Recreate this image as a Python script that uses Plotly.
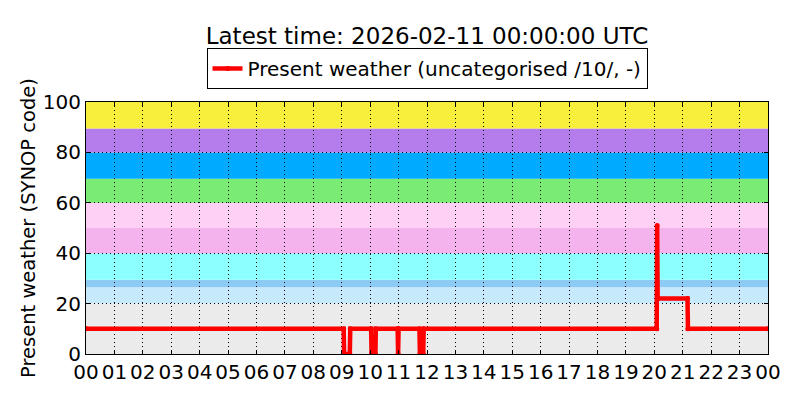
import plotly.graph_objects as go

# ---- data ----
day0 = "2026-02-10"
day1 = "2026-02-11"
times = [
    f"{day0} 00:00",
    f"{day0} 09:04", f"{day0} 09:05", f"{day0} 09:17", f"{day0} 09:18",
    f"{day0} 10:02", f"{day0} 10:03", f"{day0} 10:11", f"{day0} 10:12",
    f"{day0} 10:58", f"{day0} 10:59", f"{day0} 11:00",
    f"{day0} 11:44", f"{day0} 11:45", f"{day0} 11:52", f"{day0} 11:53",
    f"{day0} 20:05", f"{day0} 20:06", f"{day0} 20:07", f"{day0} 21:10", f"{day0} 21:11",
    f"{day1} 00:00",
]
values = [
    10,
    10, 0, 0, 10,
    10, 0, 0, 10,
    10, 0, 10,
    10, 0, 0, 10,
    10, 51, 22, 22, 10,
    10,
]

band_low = [0, 20, 26.5, 29.5, 40, 50, 60, 69.5, 80, 89.5]
band_high = [20, 26.5, 29.5, 40, 50, 60, 69.5, 80, 89.5, 100]
band_colors = ["#ebebeb", "#c6e9fc", "#8ccbf4", "#8cffff", "#f5b3ee",
               "#ffd0f6", "#7aeb73", "#00aaff", "#b57deb", "#f7ef3b"]

y_ticks = [0, 20, 40, 60, 80, 100]
title_text = "Latest time: 2026-02-11 00:00:00 UTC"
series_name = "Present weather (uncategorised /10/, -)"
y_title = "Present weather (SYNOP code)"

FONT = "DejaVu Sans"

fig = go.Figure()
fig.add_trace(go.Scatter(
    x=times, y=values, mode="lines+markers", name=series_name,
    line=dict(color="#ff0000", width=4.5),
    marker=dict(color="#ff0000", size=5),
    showlegend=True,
))

shapes = []
for lo, hi, c in zip(band_low, band_high, band_colors):
    shapes.append(dict(type="rect", xref="paper", x0=0, x1=1, yref="y", y0=lo, y1=hi,
                       fillcolor=c, line=dict(width=0), layer="below"))

fig.update_layout(
    width=800, height=400,
    margin=dict(l=86, r=32, t=102, b=46),
    paper_bgcolor="white", plot_bgcolor="white",
    font=dict(family=FONT, size=20, color="black"),
    shapes=shapes,
    title=dict(text=title_text, x=0.5, xref="paper", xanchor="center",
               y=1 - 36 / 400, yref="container", yanchor="middle",
               font=dict(size=23, family=FONT, color="black")),
    showlegend=True,
    legend=dict(orientation="h", x=0.5, xanchor="center", y=(354 - 89) / 252, yanchor="bottom",
                bordercolor="black", borderwidth=1, bgcolor="white",
                font=dict(size=20, family=FONT)),
    xaxis=dict(type="date", range=[f"{day0} 00:00", f"{day1} 00:00"],
               dtick=3600000, tick0=f"{day0} 00:00", tickformat="%H",
               ticks="inside", ticklen=4, tickcolor="black",
               showline=True, linecolor="black", linewidth=1, mirror="ticks",
               showgrid=True, gridcolor="black", gridwidth=1, griddash="1px,3px",
               zeroline=False, tickfont=dict(size=20)),
    yaxis=dict(range=[0, 100], tickvals=y_ticks,
               ticks="inside", ticklen=4, tickcolor="black",
               showline=True, linecolor="black", linewidth=1, mirror="ticks",
               showgrid=True, gridcolor="black", gridwidth=1, griddash="1px,3px",
               zeroline=False, tickfont=dict(size=20),
               title=dict(text=y_title, font=dict(size=19.5), standoff=1)),
)

fig.write_html("out.html", post_script="document.body.style.margin='0';",
               config={"displayModeBar": False})
